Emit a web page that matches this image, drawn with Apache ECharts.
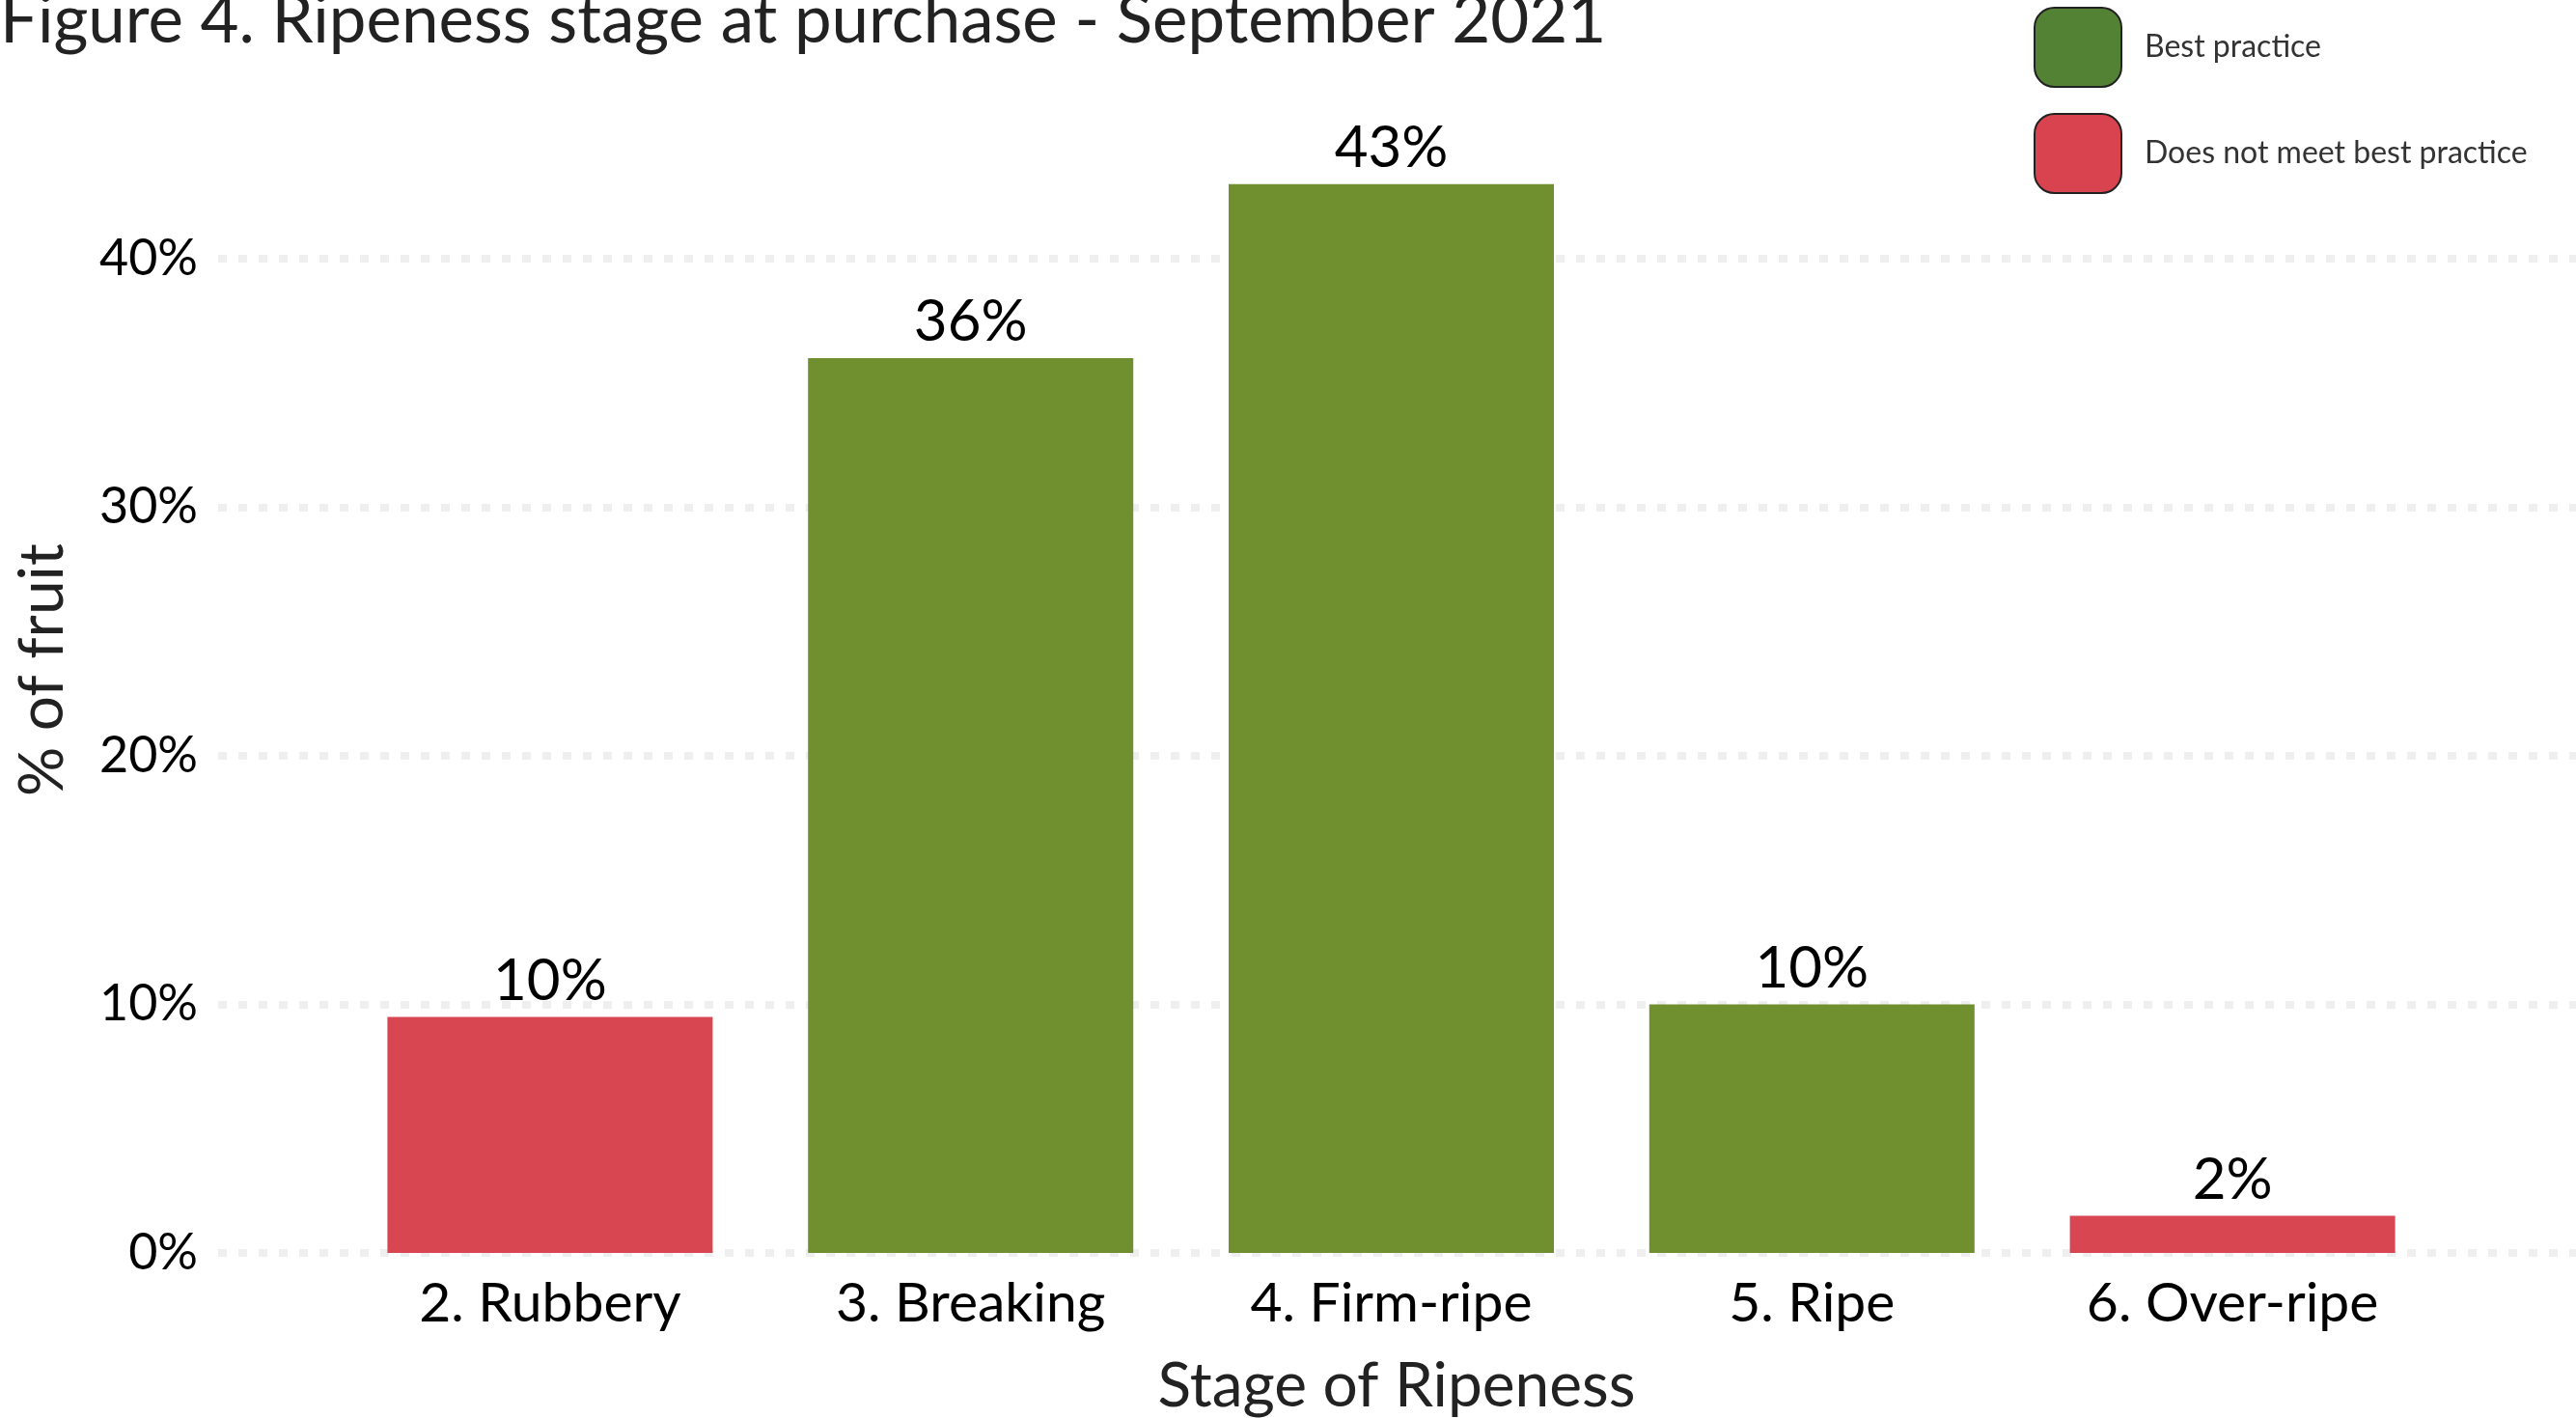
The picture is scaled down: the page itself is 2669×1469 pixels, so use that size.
<!DOCTYPE html>
<html><head><meta charset="utf-8">
<script src="https://cdn.jsdelivr.net/npm/echarts@6/dist/echarts.min.js"></script>
<style>html,body{margin:0;padding:0;background:#fff}#c{width:2669px;height:1469px}</style>
</head><body><div id="c"></div>
<script>
const categories = ['2. Rubbery', '3. Breaking', '4. Firm-ripe', '5. Ripe', '6. Over-ripe'];
const bestPractice = [null, 36.0, 43.0, 10.0, null];
const notBestPractice = [9.5, null, null, null, 1.5];
const yTickValues = [0, 10, 20, 30, 40];
const seriesNames = ['Best practice', 'Does not meet best practice'];
const titleText = 'Figure 4. Ripeness stage at purchase - September 2021';
const xTitle = 'Stage of Ripeness';
const yTitle = '% of fruit';

const FONT = 'Lato';
const chart = echarts.init(document.getElementById('c'));
const labelCfg = {
  show: true, position: 'top', distance: 7, fontSize: 60, color: '#000', fontFamily: FONT,
  formatter: p => Math.round(p.value) + '%'
};
const option = {
  animation: false,
  backgroundColor: '#fff',
  grid: [
    { left: 226, right: 0, top: 10.5, bottom: 171 },
    { left: 352, right: 138, top: 10.5, bottom: 171 }
  ],
  xAxis: [
    { gridIndex: 0, type: 'value', min: 0, max: 1, show: false },
    { gridIndex: 1, type: 'category', data: categories,
      axisLine: { show: false }, axisTick: { show: false },
      axisLabel: { margin: 24, fontSize: 57, color: '#000', fontFamily: FONT } }
  ],
  yAxis: [
    { gridIndex: 0, type: 'value', min: 0, max: 50, interval: 10,
      axisLine: { show: false }, axisTick: { show: false },
      axisLabel: { margin: 21, fontSize: 52, color: '#000', fontFamily: FONT, showMaxLabel: false,
        formatter: v => (yTickValues.indexOf(v) >= 0 ? v + '%' : '') },
      splitLine: { show: true, showMaxLine: false, lineStyle: { color: '#efefef', width: 8, type: [9, 12] } } },
    { gridIndex: 1, type: 'value', min: 0, max: 50, show: false }
  ],
  legend: {
    orient: 'vertical', left: 2102, top: 2, itemWidth: 90, itemHeight: 82, itemGap: 26,
    icon: 'roundRect', selectedMode: false,
    data: [
      { name: seriesNames[0], itemStyle: { color: '#548235', borderColor: '#222', borderWidth: 2 } },
      { name: seriesNames[1], itemStyle: { color: '#d9434f', borderColor: '#222', borderWidth: 2 } }
    ],
    textStyle: { fontSize: 32, color: '#333', fontFamily: FONT, padding: [0, 0, 0, 19] }
  },
  graphic: [
    { type: 'text', x: 0, y: 22, style: { text: titleText, fontSize: 69, fontFamily: FONT, fill: '#222', align: 'left', verticalAlign: 'middle' } },
    { type: 'text', x: 1447, y: 1436, style: { text: xTitle, fontSize: 64, fontFamily: FONT, fill: '#222', align: 'center', verticalAlign: 'middle' } },
    { type: 'text', x: 44, y: 694, rotation: Math.PI / 2, style: { text: yTitle, fontSize: 64, fontFamily: FONT, fill: '#222', align: 'center', verticalAlign: 'middle' } }
  ],
  series: [
    { name: seriesNames[0], type: 'bar', xAxisIndex: 1, yAxisIndex: 1, stack: 's', data: bestPractice,
      barWidth: 337, itemStyle: { color: '#708f2e' }, label: labelCfg },
    { name: seriesNames[1], type: 'bar', xAxisIndex: 1, yAxisIndex: 1, stack: 's', data: notBestPractice,
      barWidth: 337, itemStyle: { color: '#d84652' }, label: labelCfg }
  ]
};
chart.setOption(option);
</script></body></html>
